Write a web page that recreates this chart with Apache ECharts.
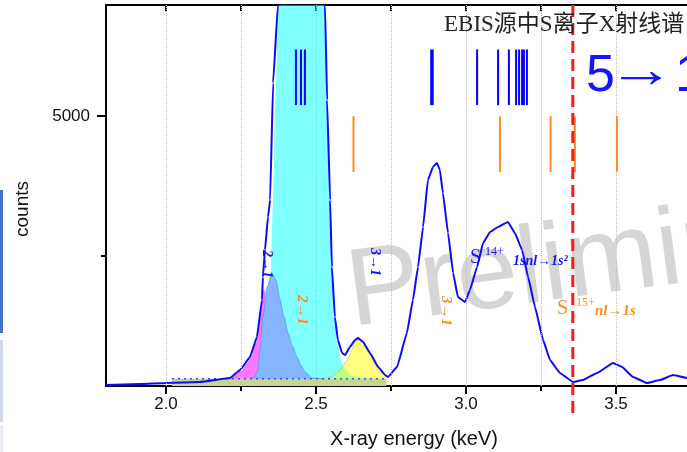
<!DOCTYPE html>
<html><head><meta charset="utf-8">
<script src="https://cdn.jsdelivr.net/npm/echarts@6/dist/echarts.min.js"></script>
<style>html,body{margin:0;padding:0;background:#fff;overflow:hidden}#c{width:687px;height:452px}</style>
</head><body><div id="c"></div>
<script>
// ---------- data ----------
const specE = [1.80,1.913,2.00,2.113,2.213,2.247,2.280,2.303,2.320,2.323,2.330,2.340,2.347,2.357,2.373,2.39,2.45,2.51,2.530,2.537,2.547,2.553,2.563,2.573,2.587,2.597,2.613,2.630,2.640,2.657,2.680,2.707,2.730,2.740,2.770,2.803,2.823,2.840,2.857,2.873,2.890,2.903,2.913,2.923,2.940,2.957,2.973,2.997,3.013,3.037,3.057,3.080,3.107,3.140,3.163,3.187,3.207,3.230,3.257,3.280,3.313,3.357,3.390,3.437,3.490,3.520,3.557,3.603,3.647,3.690,3.737,3.780];
const specC = [168,186,204,222,294,438,671,1031,1696,2110,2595,3189,3494,5598,7000,10500,13000,10500,7000,5292,3494,2290,1391,977,743,707,851,977,1013,941,743,492,348,312,492,1103,1696,2290,3009,3854,4088,4160,4034,3620,2901,2182,1750,1660,1876,2290,2721,2919,3009,3099,2901,2595,2110,1570,977,617,384,222,258,384,564,492,312,204,258,348,294,276];

const bgE = [2.02, 2.735];
const bgC = [280, 280];
const bgLevel = 280;

const cyanE = [2.28,2.30,2.32,2.335,2.347,2.357,2.365,2.376,2.39,2.45,2.51,2.530,2.537,2.547,2.553,2.563,2.573,2.587,2.60,2.62,2.65,2.70,2.735];
const cyanC = [282,320,500,900,1800,3494,5300,7000,10500,13000,10500,7000,5292,3494,2290,1300,850,560,420,330,295,283,281];

const lblueE = [2.28,2.295,2.305,2.313,2.323,2.337,2.353,2.367,2.38,2.393,2.407,2.42,2.437,2.45,2.463,2.487,2.52];
const lblueC = [281,310,420,797,1391,1930,2182,2050,1696,1400,1103,880,671,520,402,294,281];

const magE = [2.19,2.21,2.23,2.25,2.27,2.285,2.30,2.31,2.317,2.323,2.33,2.34,2.35,2.36,2.38,2.41];
const magC = [281,300,350,420,560,700,920,1200,1450,1900,1850,1500,1100,750,400,285];

const yelE = [2.52,2.55,2.57,2.58,2.59,2.60,2.61,2.62,2.63,2.64,2.655,2.68,2.70,2.72,2.735];
const yelC = [282,310,380,450,520,580,680,800,930,1000,960,740,550,400,330];

const blueLinesE = [2.433,2.450,2.463,2.884,2.889,3.037,3.107,3.143,3.167,3.177,3.187,3.193,3.203];
const blueLinesRange = [5200, 6200];
const orangeLinesE = [2.625,3.113,3.282,3.363,3.503];
const orangeLinesRange = [4000, 5000];
const markerE = 3.356;

const xMajor = [2.0, 2.5, 3.0, 3.5];
const xMinor = [2.25, 2.75, 3.25];
const xAll = [2.0,2.25,2.5,2.75,3.0,3.25,3.5];
const yMajor = [5000];
const yMinor = [2500];

const X_MIN = 1.8, X_MAX = 1.8 + 581/300, Y_MIN = 150, Y_MAX = 7000;

// ---------- chart ----------
const zip = (a, b) => a.map((v, i) => [v, b[i]]);
const chart = echarts.init(document.getElementById('c'));
const FONT = '"Liberation Sans", Arial, sans-serif';
const SERIF = '"Liberation Serif", "Times New Roman", "Noto Sans CJK SC", serif';

function vbars(name, list, range, color, width) {
  return {
    name, type: 'custom', xAxisIndex: 0, yAxisIndex: 0, clip: false, z: 9,
    data: list.map(e => [e, range[0], range[1]]),
    encode: { x: 0, y: [1, 2] },
    renderItem(params, api) {
      const p1 = api.coord([api.value(0), api.value(1)]);
      const p2 = api.coord([api.value(0), api.value(2)]);
      return { type: 'line', shape: { x1: p1[0], y1: p1[1], x2: p2[0], y2: p2[1] },
               style: { stroke: color, lineWidth: width } };
    }
  };
}

const option = {
  animation: false,
  backgroundColor: '#fff',
  grid: { left: 106, top: 5, right: 0, height: 381, containLabel: false },
  xAxis: [
    { type: 'value', position: 'bottom', min: X_MIN, max: X_MAX,
      axisLine: { show: true, lineStyle: { color: '#000', width: 2 } },
      axisTick: { show: true, inside: false, length: 8, customValues: xMajor, lineStyle: { color: '#000', width: 2 } },
      axisLabel: { show: true, customValues: xMajor, formatter: v => Number(v).toFixed(1), fontSize: 17, color: '#111', fontFamily: FONT, margin: 10 },
      splitLine: { show: false } },
    { type: 'value', position: 'bottom', min: X_MIN, max: X_MAX,
      axisLine: { show: false },
      axisTick: { show: true, inside: false, length: 5, customValues: xMinor, lineStyle: { color: '#000', width: 2 } },
      axisLabel: { show: false }, splitLine: { show: false } },
    { type: 'value', position: 'top', min: X_MIN, max: X_MAX,
      axisLine: { show: true, lineStyle: { color: '#000', width: 2 } },
      axisTick: { show: true, inside: true, length: 6, customValues: xAll, lineStyle: { color: '#000', width: 2 } },
      axisLabel: { show: false }, splitLine: { show: false } }
  ],
  yAxis: [
    { type: 'value', position: 'left', min: Y_MIN, max: Y_MAX,
      axisLine: { show: true, lineStyle: { color: '#000', width: 2 } },
      axisTick: { show: true, inside: false, length: 9, customValues: yMajor, lineStyle: { color: '#000', width: 2 } },
      axisLabel: { show: true, customValues: yMajor, formatter: v => String(Math.round(v)), fontSize: 17, color: '#111', fontFamily: FONT, margin: 16 },
      splitLine: { show: false } },
    { type: 'value', position: 'left', min: Y_MIN, max: Y_MAX,
      axisLine: { show: false },
      axisTick: { show: true, inside: false, length: 5, customValues: yMinor, lineStyle: { color: '#000', width: 2 } },
      axisLabel: { show: false }, splitLine: { show: false } }
  ],
  series: [
    { name: 'background', type: 'line', data: zip(bgE, bgC), symbol: 'none', lineStyle: { width: 0 },
      areaStyle: { color: '#c5d88a', opacity: 1, origin: 'start' }, z: 2 },
    { name: 'cyan', type: 'line', data: zip(cyanE, cyanC), symbol: 'none', smooth: 0.2, smoothMonotone: 'x',
      lineStyle: { width: 0 }, areaStyle: { color: 'rgba(0,255,255,0.5)', opacity: 1, origin: bgLevel }, z: 2 },
    { name: 'yellow', type: 'line', data: zip(yelE, yelC), symbol: 'none', smooth: 0.3, smoothMonotone: 'x',
      lineStyle: { width: 1, color: 'rgba(120,120,120,0.6)', type: 'dotted' }, areaStyle: { color: 'rgba(255,255,0,0.5)', opacity: 1, origin: bgLevel }, z: 2 },
    { name: 'magenta', type: 'line', data: zip(magE, magC), symbol: 'none', smooth: 0.3, smoothMonotone: 'x',
      lineStyle: { width: 0 }, areaStyle: { color: '#ff77ff', opacity: 1, origin: bgLevel }, z: 2 },
    { name: 'lightblue', type: 'line', data: zip(lblueE, lblueC), symbol: 'none', smooth: 0.3, smoothMonotone: 'x',
      lineStyle: { width: 1, color: 'rgba(90,140,230,0.7)' }, areaStyle: { color: '#86b5ff', opacity: 1, origin: bgLevel }, z: 2 },
    { name: 'baseline', type: 'line', data: zip(bgE, bgC), symbol: 'none',
      lineStyle: { width: 1.5, color: '#3050ff', type: [2, 4] }, z: 2 },
    { name: 'grid', type: 'line', data: [], z: 3,
      markLine: { silent: true, symbol: 'none', label: { show: false },
        lineStyle: { color: '#bdbdbd', type: 'dotted', width: 1 },
        data: xAll.map(v => ({ xAxis: v })) } },
    { name: 'spectrum', type: 'line', data: zip(specE, specC), symbol: 'none', smooth: 0.1, smoothMonotone: 'x',
      lineStyle: { width: 2, color: '#0a0aff' }, z: 4 },
    vbars('S14+ lines', blueLinesE, blueLinesRange, '#0000ff', 2),
    vbars('S15+ lines', orangeLinesE, orangeLinesRange, '#ff8c1a', 2),
    { name: 'marker', type: 'custom', clip: false, z: 10,
      data: [[markerE, Y_MIN, Y_MAX]], encode: { x: 0, y: [1, 2] },
      renderItem(params, api) {
        const top = api.coord([api.value(0), api.value(2)]);
        const bot = api.coord([api.value(0), api.value(1)]);
        return { type: 'line', shape: { x1: top[0], y1: top[1], x2: bot[0], y2: bot[1] + 27 },
                 style: { stroke: '#ff1a1a', lineWidth: 3, lineDash: [12, 6] } };
      } }
  ],
  graphic: [
    { type: 'rect', shape: { x: 0, y: 190, width: 3, height: 143 }, style: { fill: '#4472c4' }, z: 0 },
    { type: 'rect', shape: { x: 0, y: 340, width: 3, height: 82 }, style: { fill: '#cfd5ea' }, z: 0 },
    { type: 'rect', shape: { x: 0, y: 425, width: 3, height: 27 }, style: { fill: '#e9ebf5' }, z: 0 },
    { type: 'text', x: 348, y: 296, rotation: 7.5 * Math.PI / 180, z: 0,
      style: { text: 'Preliminary', font: '110px ' + FONT, fill: '#d6d6d6', align: 'left', verticalAlign: 'middle' } },
    { type: 'text', x: 23, y: 209, rotation: Math.PI / 2, z: 50,
      style: { text: 'counts', font: '19px ' + FONT, fill: '#111', align: 'center', verticalAlign: 'middle' } },
    { type: 'text', x: 414, y: 439, z: 50,
      style: { text: 'X-ray energy (keV)', font: '20px ' + FONT, fill: '#111', align: 'center', verticalAlign: 'middle' } },
    { type: 'text', x: 444, y: 25, z: 50,
      style: { text: 'EBIS源中S离子X射线谱', font: '23px ' + SERIF, fill: '#222', align: 'left', verticalAlign: 'middle' } },
    { type: 'text', x: 586, y: 77, z: 50,
      style: { text: '5', font: '52px ' + FONT, fill: '#1414ff', align: 'left', verticalAlign: 'middle' } },
    { type: 'text', x: 607, y: 73, scaleX: 1.3, z: 50,
      style: { text: '→', font: '52px ' + FONT, fill: '#1414ff', align: 'left', verticalAlign: 'middle' } },
    { type: 'text', x: 675, y: 77, z: 50,
      style: { text: '1', font: '52px ' + FONT, fill: '#1414ff', align: 'left', verticalAlign: 'middle' } },
    { type: 'text', x: 267, y: 264, rotation: -Math.PI / 2, z: 50,
      style: { text: '2→1', font: 'italic bold 14px ' + SERIF, fill: '#1414ff', align: 'center', verticalAlign: 'middle' } },
    { type: 'text', x: 375, y: 262, rotation: -Math.PI / 2, z: 50,
      style: { text: '3→1', font: 'italic bold 14px ' + SERIF, fill: '#1414ff', align: 'center', verticalAlign: 'middle' } },
    { type: 'text', x: 302, y: 310, rotation: -Math.PI / 2, z: 50,
      style: { text: '2→1', font: 'italic bold 15px ' + SERIF, fill: '#ff8c1a', align: 'center', verticalAlign: 'middle' } },
    { type: 'text', x: 446, y: 311, rotation: -Math.PI / 2, z: 50,
      style: { text: '3→1', font: 'italic bold 15px ' + SERIF, fill: '#ff8c1a', align: 'center', verticalAlign: 'middle' } },
    { type: 'text', x: 470, y: 258, z: 1,
      style: { text: 'S', font: '20px ' + SERIF, fill: '#1414ff', align: 'left', verticalAlign: 'middle' } },
    { type: 'text', x: 485, y: 252, z: 1,
      style: { text: '14+', font: '12px ' + SERIF, fill: '#1414ff', align: 'left', verticalAlign: 'middle' } },
    { type: 'text', x: 513, y: 261, z: 1,
      style: { text: '1snl→1s²', font: 'italic bold 14px ' + SERIF, fill: '#1414ff', align: 'left', verticalAlign: 'middle' } },
    { type: 'text', x: 557, y: 309, z: 50,
      style: { text: 'S', font: '20px ' + SERIF, fill: '#ff8c1a', align: 'left', verticalAlign: 'middle' } },
    { type: 'text', x: 576, y: 303, z: 50,
      style: { text: '15+', font: '12px ' + SERIF, fill: '#ff8c1a', align: 'left', verticalAlign: 'middle' } },
    { type: 'text', x: 595, y: 311, z: 50,
      style: { text: 'nl→1s', font: 'italic bold 15px ' + SERIF, fill: '#ff8c1a', align: 'left', verticalAlign: 'middle' } }
  ]
};
chart.setOption(option);
</script></body></html>
